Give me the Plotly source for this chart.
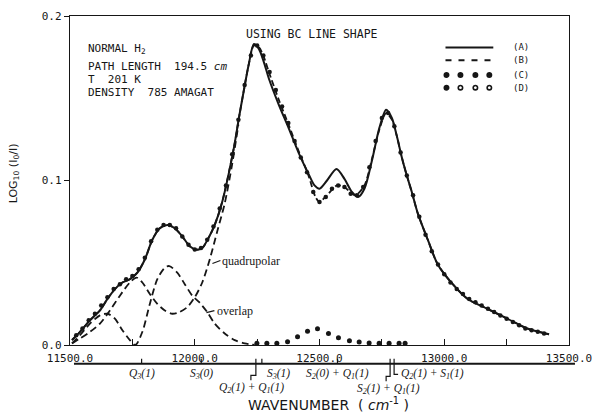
import plotly.graph_objects as go

# ---------------- data ----------------
wn_A = [11508, 11540, 11580, 11620, 11650, 11680, 11710, 11740, 11770, 11800, 11830, 11860,
        11890, 11920, 11950, 11980, 12005, 12030, 12055, 12080, 12110, 12157, 12177, 12197,
        12217, 12237, 12257, 12277, 12297, 12337, 12376, 12416, 12456, 12480, 12500, 12530,
        12568, 12600, 12630, 12655, 12680, 12710, 12740, 12767, 12790, 12810, 12830, 12850,
        12870, 12894, 12934, 12974, 13034, 13094, 13173, 13253, 13333, 13420]
abs_A = [0.003, 0.008, 0.015, 0.021, 0.028, 0.034, 0.038, 0.040, 0.044, 0.052, 0.064, 0.071,
         0.073, 0.071, 0.066, 0.060, 0.058, 0.059, 0.065, 0.073, 0.087, 0.120, 0.138, 0.155,
         0.171, 0.183, 0.180, 0.172, 0.162, 0.146, 0.132, 0.117, 0.104, 0.097, 0.095, 0.100,
         0.107, 0.101, 0.093, 0.090, 0.095, 0.112, 0.132, 0.143, 0.138, 0.127, 0.114, 0.103,
         0.093, 0.080, 0.064, 0.049, 0.037, 0.028, 0.022, 0.016, 0.010, 0.0065]

wn_B = [11508, 11540, 11580, 11620, 11650, 11680, 11710, 11740, 11770, 11800, 11830, 11860,
        11890, 11920, 11950, 11980, 12005, 12030, 12055, 12080, 12110, 12157, 12177, 12197,
        12217, 12237, 12257, 12277, 12297, 12337, 12376, 12416, 12456, 12484, 12500, 12530,
        12570, 12600, 12643, 12680, 12710, 12740, 12767, 12790, 12810, 12830, 12850, 12870,
        12894, 12934, 12974, 13034, 13094, 13173, 13253, 13333, 13420]
abs_B = [0.003, 0.008, 0.015, 0.021, 0.028, 0.034, 0.038, 0.040, 0.044, 0.052, 0.064, 0.071,
         0.073, 0.071, 0.066, 0.060, 0.058, 0.059, 0.065, 0.073, 0.087, 0.120, 0.138, 0.155,
         0.171, 0.182, 0.181, 0.175, 0.166, 0.149, 0.134, 0.118, 0.103, 0.090, 0.087, 0.091,
         0.097, 0.096, 0.091, 0.097, 0.113, 0.131, 0.141, 0.137, 0.127, 0.114, 0.103, 0.093,
         0.080, 0.064, 0.049, 0.037, 0.028, 0.022, 0.016, 0.010, 0.0065]

wn_C = [11525, 11550, 11575, 11600, 11625, 11650, 11675, 11700, 11725, 11750, 11775, 11800,
        11825, 11850, 11875, 11900, 11925, 11950, 11975, 12000, 12025, 12050, 12075, 12100,
        12125, 12150, 12175, 12200, 12225, 12250, 12275, 12300, 12325, 12350, 12375, 12400,
        12425, 12450, 12475, 12500, 12525, 12550, 12575, 12600, 12625, 12650, 12675, 12700,
        12725, 12750, 12775, 12800, 12825, 12850, 12875, 12900, 12925, 12950, 12975, 13000,
        13025, 13050, 13075, 13100, 13125, 13150, 13175, 13200, 13225, 13250, 13275, 13300,
        13325, 13350, 13375, 13400]
abs_C = [0.006, 0.010, 0.015, 0.019, 0.024, 0.029, 0.034, 0.037, 0.040, 0.042, 0.046, 0.053,
         0.063, 0.070, 0.073, 0.073, 0.071, 0.066, 0.061, 0.058, 0.059, 0.064, 0.072, 0.083,
         0.097, 0.116, 0.137, 0.158, 0.176, 0.182, 0.176, 0.166, 0.155, 0.145, 0.135, 0.124,
         0.114, 0.105, 0.093, 0.087, 0.090, 0.095, 0.097, 0.096, 0.092, 0.091, 0.096, 0.108,
         0.124, 0.138, 0.141, 0.133, 0.117, 0.103, 0.091, 0.078, 0.067, 0.057, 0.049, 0.043,
         0.038, 0.034, 0.031, 0.028, 0.026, 0.024, 0.022, 0.020, 0.018, 0.016, 0.014, 0.012,
         0.010, 0.009, 0.008, 0.007]

wn_D = [12249, 12289, 12329, 12372, 12412, 12452, 12492, 12536, 12576, 12620, 12659, 12699,
        12739, 12779, 12819, 12843]
abs_D = [0.001, 0.001, 0.001, 0.002, 0.005, 0.0083, 0.0099, 0.007, 0.0044, 0.0026, 0.0018,
         0.0012, 0.001, 0.001, 0.001, 0.001]

wn_quad = [11508, 11540, 11580, 11620, 11660, 11700, 11740, 11767, 11790, 11820, 11850, 11880,
           11910, 11938, 11970, 12000, 12030, 12060, 12090, 12120, 12150, 12175]
abs_quad = [0.001, 0.004, 0.008, 0.013, 0.021, 0.030, 0.038, 0.041, 0.038, 0.031, 0.025, 0.021,
            0.019, 0.020, 0.023, 0.029, 0.038, 0.052, 0.069, 0.086, 0.110, 0.134]

wn_over = [11508, 11540, 11580, 11620, 11651, 11680, 11710, 11740, 11762, 11790, 11820, 11850,
           11880, 11898, 11930, 11960, 11990, 12018, 12050, 12080, 12120, 12160, 12200, 12240]
abs_over = [0.001, 0.006, 0.013, 0.018, 0.019, 0.016, 0.009, 0.003, 0.0, 0.008, 0.025, 0.040,
            0.047, 0.048, 0.044, 0.037, 0.030, 0.026, 0.020, 0.013, 0.007, 0.003, 0.001, 0.0]

x_ticks = [11500, 12000, 12500, 13000, 13500]
y_ticks = [0.0, 0.1, 0.2]

trans_wn = [11787, 12026, 12245, 12269, 12572, 12783, 12799]
trans_lbl = ["Q<sub>3</sub>(1)", "S<sub>3</sub>(0)", "Q<sub>2</sub>(1) + Q<sub>1</sub>(1)",
             "S<sub>3</sub>(1)", "S<sub>2</sub>(0) + Q<sub>1</sub>(1)",
             "S<sub>2</sub>(1) + Q<sub>1</sub>(1)", "Q<sub>2</sub>(1) + S<sub>1</sub>(1)"]

# ---------------- geometry helpers ----------------
W, H = 602, 415
L, R, T, B = 70, 571, 10, 345
def px(x):
    return (x - L) / (R - L)
def py(y):
    return (B - y) / (B - T)

INK = "#161616"
MONO = "DejaVu Sans Mono"
SERIF = "Liberation Serif"

fig = go.Figure()
spl = dict(shape="spline", smoothing=0.8)
fig.add_trace(go.Scatter(x=wn_quad, y=abs_quad, mode="lines",
                         line=dict(color=INK, width=1.8, dash="7px,4px", **spl)))
fig.add_trace(go.Scatter(x=wn_over, y=abs_over, mode="lines",
                         line=dict(color=INK, width=1.8, dash="7px,4px", **spl)))
fig.add_trace(go.Scatter(x=wn_B, y=abs_B, mode="lines",
                         line=dict(color=INK, width=1.8, dash="6px,3px", **spl)))
fig.add_trace(go.Scatter(x=wn_A, y=abs_A, mode="lines",
                         line=dict(color=INK, width=2, **spl)))
fig.add_trace(go.Scatter(x=wn_C, y=abs_C, mode="markers",
                         marker=dict(color=INK, size=4.5, symbol="circle")))
fig.add_trace(go.Scatter(x=wn_D, y=abs_D, mode="markers",
                         marker=dict(color=INK, size=5, symbol="circle")))

shapes = []
ann = []

# legend samples
leg_y = [42, 55, 70, 83]
shapes.append(dict(type="line", xref="paper", yref="paper", x0=px(447), x1=px(495),
                   y0=py(leg_y[0]), y1=py(leg_y[0]), line=dict(color=INK, width=2)))
shapes.append(dict(type="line", xref="paper", yref="paper", x0=px(447), x1=px(495),
                   y0=py(leg_y[1]), y1=py(leg_y[1]), line=dict(color=INK, width=2, dash="6px,7px")))
for i, yy in enumerate(leg_y[2:]):
    for k, xx in enumerate([448, 462, 477, 491]):
        r = 2.2
        filled = (i == 0) or (k == 0)
        shapes.append(dict(type="circle", xref="paper", yref="paper",
                           x0=px(xx - r), x1=px(xx + r), y0=py(yy + r), y1=py(yy - r),
                           fillcolor=INK if filled else "white",
                           line=dict(color=INK, width=1.6)))
for lbl, yy in zip(["(A)", "(B)", "(C)", "(D)"], leg_y):
    ann.append(dict(text=lbl, x=px(513), y=py(yy), xref="paper", yref="paper",
                    xanchor="left", yanchor="middle", showarrow=False,
                    font=dict(family=MONO, size=9, color=INK)))

# info text
ann.append(dict(text="USING BC LINE SHAPE", x=px(245), y=py(28), xref="paper", yref="paper",
                xanchor="left", yanchor="middle", showarrow=False,
                font=dict(family=MONO, size=11.5, color=INK)))
info = [("NORMAL H<sub>2</sub>", 44), ("PATH LENGTH  194.5 <i>cm</i>", 61),
        ("T  201 K", 75), ("DENSITY  785 AMAGAT", 88)]
for t, yy in info:
    ann.append(dict(text=t, x=px(86), y=py(yy), xref="paper", yref="paper",
                    xanchor="left", yanchor="middle", showarrow=False,
                    font=dict(family=MONO, size=11, color=INK)))

# component labels
ann.append(dict(text="quadrupolar", x=px(221), y=py(259), xref="paper", yref="paper",
                xanchor="left", yanchor="middle", showarrow=False,
                font=dict(family=SERIF, size=12, color=INK)))
shapes.append(dict(type="line", xref="paper", yref="paper", x0=px(213), x1=px(221),
                   y0=py(262), y1=py(259), line=dict(color=INK, width=1.2)))
ann.append(dict(text="overlap", x=px(216), y=py(310), xref="paper", yref="paper",
                xanchor="left", yanchor="middle", showarrow=False,
                font=dict(family=SERIF, size=12, color=INK)))
shapes.append(dict(type="line", xref="paper", yref="paper", x0=px(207), x1=px(215),
                   y0=py(312), y1=py(310), line=dict(color=INK, width=1.2)))

# transition axis
ax_y = 364
shapes.append(dict(type="line", xref="paper", yref="paper", x0=px(74), x1=px(577),
                   y0=py(ax_y), y1=py(ax_y), line=dict(color=INK, width=2)))
for w in trans_wn:
    shapes.append(dict(type="line", xref="x", yref="paper", x0=w, x1=w,
                       y0=py(ax_y), y1=py(ax_y - 5), line=dict(color=INK, width=1.2)))
def xw(w):
    return L + (w - 11500) / 2000 * (R - L)
lab_font = dict(family=SERIF, size=11.5, color=INK)
for i in [0, 1, 4]:
    ann.append(dict(text="<i>" + trans_lbl[i] + "</i>", x=trans_wn[i], y=py(375), xref="x",
                    yref="paper", xanchor="center", yanchor="middle", showarrow=False,
                    font=lab_font))
ann.append(dict(text="<i>" + trans_lbl[3] + "</i>", x=px(xw(trans_wn[3]) + 3), y=py(375),
                xref="paper", yref="paper", xanchor="left", yanchor="middle",
                showarrow=False, font=lab_font))
x1 = xw(trans_wn[2])
shapes.append(dict(type="path", xref="paper", yref="paper",
                   path=f"M {px(x1)} {py(ax_y)} L {px(x1)} {py(376)} L {px(x1-5)} {py(376)} L {px(x1-5)} {py(381)}",
                   line=dict(color=INK, width=1.2)))
ann.append(dict(text="<i>" + trans_lbl[2] + "</i>", x=px(x1 - 4), y=py(389), xref="paper",
                yref="paper", xanchor="center", yanchor="middle", showarrow=False, font=lab_font))
x2 = xw(trans_wn[5])
shapes.append(dict(type="path", xref="paper", yref="paper",
                   path=f"M {px(x2)} {py(ax_y)} L {px(x2)} {py(377)} L {px(x2-4)} {py(377)} L {px(x2-4)} {py(382)}",
                   line=dict(color=INK, width=1.2)))
ann.append(dict(text="<i>" + trans_lbl[5] + "</i>", x=px(x2 - 2), y=py(390), xref="paper",
                yref="paper", xanchor="center", yanchor="middle", showarrow=False, font=lab_font))
x3 = xw(trans_wn[6])
shapes.append(dict(type="path", xref="paper", yref="paper",
                   path=f"M {px(x3)} {py(ax_y)} L {px(x3)} {py(375)} L {px(x3+4)} {py(375)}",
                   line=dict(color=INK, width=1.2)))
ann.append(dict(text="<i>" + trans_lbl[6] + "</i>", x=px(x3 + 5), y=py(375), xref="paper",
                yref="paper", xanchor="left", yanchor="middle", showarrow=False, font=lab_font))

# axis titles
ann.append(dict(text="WAVENUMBER  ( <i>cm</i><sup>-1</sup> )", x=px(330), y=py(405),
                xref="paper", yref="paper", xanchor="center", yanchor="middle",
                showarrow=False, font=dict(family="DejaVu Sans", size=14, color=INK)))
ann.append(dict(text="LOG<sub>10</sub> (I<sub>0</sub>/I)", x=px(14), y=py(170),
                xref="paper", yref="paper", xanchor="center", yanchor="middle",
                textangle=-90, showarrow=False,
                font=dict(family="DejaVu Sans", size=11, color=INK)))

fig.update_layout(
    width=W, height=H, margin=dict(l=L, r=W - R, t=T, b=H - B),
    paper_bgcolor="white", plot_bgcolor="white", showlegend=False,
    shapes=shapes, annotations=ann,
    xaxis=dict(range=[11500, 13500], tickvals=x_ticks, tickformat=".1f",
               ticks="inside", ticklen=6, tickcolor=INK, ticklabelstandoff=3,
               minor=dict(dtick=250, ticks="inside", ticklen=6, tickcolor=INK),
               showline=True, linecolor=INK, linewidth=1.4, mirror=True,
               showgrid=False, zeroline=False,
               tickfont=dict(family=MONO, size=11, color=INK)),
    yaxis=dict(range=[0, 0.2], tickvals=y_ticks, tickformat=".1f",
               ticks="outside", ticklen=5, tickcolor=INK,
               showline=True, linecolor=INK, linewidth=1.4, mirror=True,
               showgrid=False, zeroline=False,
               tickfont=dict(family=MONO, size=11, color=INK)),
)

fig.write_html("out.html")
